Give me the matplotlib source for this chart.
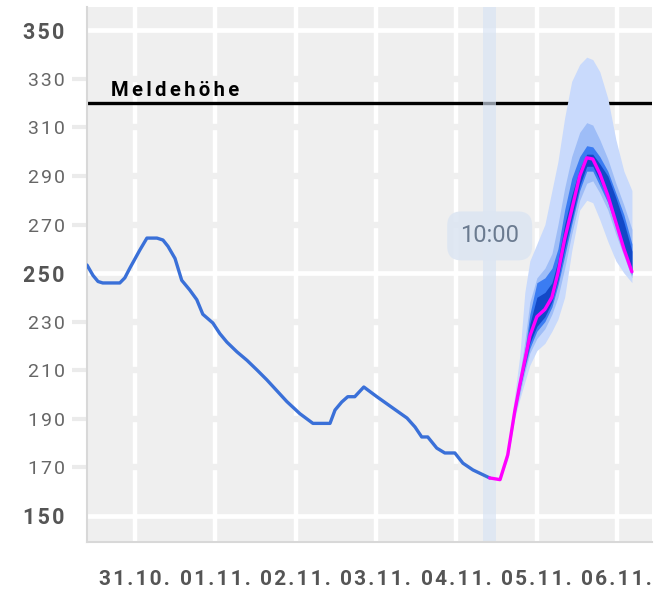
import matplotlib
matplotlib.use("Agg")
import matplotlib.pyplot as plt

plt.rcParams['font.family'] = ['Roboto', 'DejaVu Sans']

# time in hours since 30.10. 00:00
obs_t = [9.7, 11.5, 13, 14.4, 19.5, 21, 22.5, 25.5, 27.6, 30.6, 32.4, 33.9, 36, 38,
         40.4, 42.5, 44.3, 47.3, 49.4, 51.5, 54.5, 57.5, 60.5, 63.4, 66.4, 69.4, 73.3,
         77.2, 82.3, 83.8, 85.8, 87.6, 89.7, 92.4, 96.3, 101.1, 105.3, 107.7, 109.7,
         111.5, 114.2, 116.6, 119.6, 122, 125, 130]
obs_v = [253.3, 249, 246.5, 245.9, 245.9, 248, 252, 259.5, 264.4, 264.4, 263.6, 261, 256, 247,
         243, 239, 233, 229.4, 225, 221.5, 217.5, 214, 210, 206, 201.5, 197, 192,
         188, 188, 193.5, 196.8, 199, 199, 203, 199, 194.3, 190.2, 186.5, 182.4,
         182.4, 177.8, 175.8, 175.8, 171.6, 168.8, 165.5]

fc_t = [130, 133.1, 135.4, 137.5, 139, 140.5, 142, 144.1, 146.5, 148.6, 150.4, 152.4,
        154.5, 156.9, 159, 160.8, 162.9, 165.3, 167.7, 170.1, 172.5]
fc_mid = [165.5, 164.8, 175, 193, 204, 214, 224, 232, 235, 240, 250, 264,
          276, 290, 297.5, 297, 291, 282, 271, 260, 250.5]

q1_lo = [165.5, 164.8, 173, 190, 198, 205, 212, 218, 221, 226, 231, 240,
         259, 276, 280, 279, 272, 263, 255, 250, 246]
q1_hi = [165.5, 164.8, 178, 200, 216, 242, 255, 262, 270, 284, 296, 314,
         329, 336, 339, 338, 333, 322, 305, 292, 284]
q2_lo = [165.5, 164.8, 174, 191, 200, 209, 217, 223, 227, 233, 240, 252,
         266, 280, 287, 288, 283, 276, 266, 257, 248]
q2_hi = [165.5, 164.8, 176, 196, 208, 222, 238, 248, 252, 258, 270, 285,
         298, 308, 312, 311, 305, 297, 287, 278, 268]
q3_lo = [165.5, 164.8, 174.5, 192, 202, 211, 219, 226, 230, 236, 245, 257,
         270, 284, 292, 292, 286, 279, 269, 259, 249]
q3_hi = [165.5, 164.8, 175.5, 195, 206, 218, 233, 246, 248, 252, 260, 276,
         289, 298, 302.5, 302, 298, 292, 283, 274, 262]
q4_lo = [165.5, 164.8, 174.8, 192.5, 203, 212, 221, 228, 232, 238, 247, 260,
         272, 286, 294, 294, 288, 281, 271, 261, 250]
q4_hi = [165.5, 164.8, 175.2, 194, 205, 216, 229, 240, 242, 246, 255, 270,
         282, 293, 299, 299, 295, 290, 281, 271, 259]

day_pos = [24, 48, 72, 96, 120, 144, 168]
day_labels = ['31.10.', '01.11.', '02.11.', '03.11.', '04.11.', '05.11.', '06.11.']
major_y = [150, 250, 350]
minor_y = [170, 190, 210, 230, 270, 290, 310, 330]
meldehoehe = 320
now_t = 130


def spaced(s, sp='\u200a'):
    # fake letter spacing
    return sp.join(s)


bg = '#efefef'
fig = plt.figure(figsize=(6.58, 5.9), dpi=100)
ax = fig.add_axes([0.1322, 0.0814, 0.8587, 0.9068])
ax.set_facecolor(bg)

for d in day_pos:
    ax.axvline(d, color='white', lw=3.2, zorder=0.5)
for v in minor_y:
    ax.axhline(v, color=bg, lw=4.5, zorder=0.6)
for v in major_y:
    ax.axhline(v, color='white', lw=3.4, zorder=0.7)

ax.axhline(meldehoehe, color='black', lw=2.4, zorder=1)
ax.text(16.8, 322.8, spaced('Meldehöhe', '\u2006'), fontsize=14.5, fontweight='bold',
        color='black', va='baseline', zorder=5)

ax.axvspan(now_t - 2, now_t + 2, color='#d7e3f4', alpha=0.65, lw=0, zorder=1.5)

ax.fill_between(fc_t, q1_lo, q1_hi, color='#c9dafc', lw=0, zorder=2)
ax.fill_between(fc_t, q2_lo, q2_hi, color='#9ebdf7', lw=0, zorder=2.1)
ax.fill_between(fc_t, q3_lo, q3_hi, color='#3b7cf2', lw=0, zorder=2.2)
ax.fill_between(fc_t, q4_lo, q4_hi, color='#1249c7', lw=0, zorder=2.3)

ax.plot(obs_t, obs_v, color='#3a70d8', lw=2.4, zorder=3, solid_capstyle='round')
ax.plot(fc_t, fc_mid, color='#ff00ff', lw=2.4, zorder=3.5, solid_capstyle='round')

ax.text(now_t, 265.3, '10:00', fontsize=17, color='#6b7b90', ha='center', va='center',
        zorder=4, bbox=dict(boxstyle='round,pad=0.55,rounding_size=0.6',
                            fc='#dde6f2', ec='none', alpha=0.9))

ax.set_xlim(9.7, 178.5)
ax.set_ylim(139.1, 359.7)

ax.set_yticks(major_y)
ax.set_yticklabels([spaced(str(v)) for v in major_y], fontweight='bold', fontsize=15.5,
                   color='#555555')
ax.set_yticks(minor_y, minor=True)
ax.set_yticklabels([spaced(str(v)) for v in minor_y], minor=True, fontsize=14,
                   color='#666666')
ax.tick_params(axis='y', which='major', length=0, pad=16.5)
ax.tick_params(axis='y', which='minor', length=10.5, width=3, color='#ebebeb', pad=5.5)

ax.set_xticks(day_pos)
ax.set_xticklabels([spaced(s) for s in day_labels], fontweight='bold', fontsize=15,
                   color='#555555')
ax.tick_params(axis='x', length=0, pad=20)

for s in ['top', 'right']:
    ax.spines[s].set_visible(False)
for s in ['left', 'bottom']:
    ax.spines[s].set_color('#d8d8d8')
    ax.spines[s].set_linewidth(1.5)

fig.savefig('out.png', dpi=100)
